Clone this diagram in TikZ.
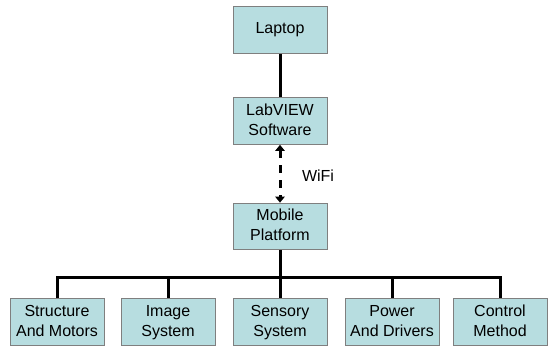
\documentclass[tikz,border=0pt]{standalone}
\usepackage{fontspec}
\setmainfont{Liberation Sans}
\usetikzlibrary{arrows.meta}
\definecolor{boxfill}{HTML}{B7DDE0}
\definecolor{boxline}{HTML}{7F7F7F}
\newcommand{\twolines}[2]{\strut#1\\\strut#2}
\begin{document}
\begin{tikzpicture}[x=0.75pt,y=-0.75pt,
    block/.style={draw=boxline, fill=boxfill, line width=0.75pt, minimum width=70.5pt,
        minimum height=35pt, align=center, inner sep=0pt, font=\fontsize{12}{15}\selectfont},
    link/.style={line width=2.25pt}]
        \useasboundingbox (0,0) rectangle (548,349);

        % Define rows
        \def\rowBus{277}
        \def\rowBottom{322}

        % Top chain
        \node[block] (laptop) at (280,30) {\strut Laptop};
        \node[block] (labview) at (280,121) {\twolines{LabVIEW}{Software}};
        \node[block] (mobile) at (280,226.5) {\twolines{Mobile}{Platform}};

        % Subsystems
        \node[block] (structure) at (57,\rowBottom) {\twolines{Structure}{And Motors}};
        \node[block] (image) at (168,\rowBottom) {\twolines{Image}{System}};
        \node[block] (sensory) at (280,\rowBottom) {\twolines{Sensory}{System}};
        \node[block] (power) at (392,\rowBottom) {\twolines{Power}{And Drivers}};
        \node[block] (control) at (500,\rowBottom) {\twolines{Control}{Method}};

        % Links
        \draw[link] (laptop) -- (labview);
        \draw[link, dash pattern=on 6pt off 5.25pt, {Triangle[length=4.5pt,width=7pt]}-{Triangle[length=4.5pt,width=7pt]}] (labview) -- (mobile);
        \node[font=\fontsize{12}{15}\selectfont] (wifi) at (318,176) {WiFi};

        % Bus to subsystems
        \coordinate (bus) at (280,\rowBus);
        \draw[link] (mobile) -- (bus);
        \draw[link] (structure) |- (bus -| control) -- (control);
        \draw[link] (image) -- (image |- bus);
        \draw[link] (sensory) -- (bus);
        \draw[link] (power) -- (power |- bus);
    \end{tikzpicture}
\end{document}
